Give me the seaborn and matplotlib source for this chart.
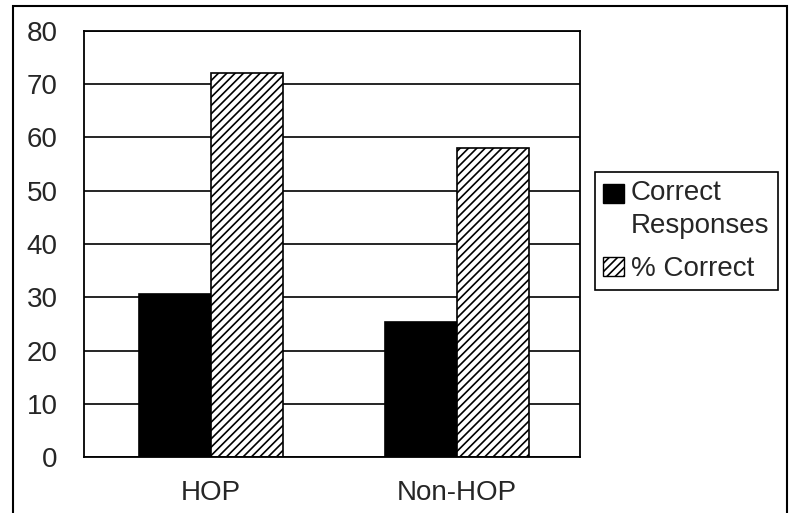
import matplotlib
matplotlib.use("Agg")
import matplotlib.pyplot as plt
from matplotlib.patches import Patch, Rectangle
from matplotlib.legend_handler import HandlerPatch
import seaborn as sns
import pandas as pd

# values
groups = ["HOP", "Non-HOP"]
correct_responses = [30.6, 25.4]
pct_correct = [72.1, 58.1]
series = ["Correct Responses", "% Correct"]

df = pd.DataFrame({
    "group": groups * 2,
    "series": [series[0]] * 2 + [series[1]] * 2,
    "value": correct_responses + pct_correct,
})

sns.set_style("white")
plt.rcParams["font.family"] = ["Liberation Sans", "DejaVu Sans"]
plt.rcParams["hatch.linewidth"] = 1.2

fig = plt.figure(figsize=(7.92, 5.13), dpi=100)
ax = fig.add_axes([84 / 792, 1 - 457.4 / 513, (580 - 84) / 792, (457.4 - 30.7) / 513])

sns.barplot(data=df, x="group", y="value", hue="series", hue_order=series,
            palette=["black", "white"], width=0.585, gap=0, legend=False,
            edgecolor="black", linewidth=1.2, saturation=1, ax=ax)

# hatching on the second series
for bar in ax.containers[1]:
    bar.set_hatch("////")

ax.set_ylim(0, 80)
ax.set_yticks(range(0, 81, 10))
ax.yaxis.grid(True, color="black", linewidth=1.2)
ax.set_axisbelow(True)

ax.set_xlim(-0.517, 1.495)
ax.set_xticks([-0.5, 0.5, 1.5])
ax.set_xticklabels([])
ax.set_xticks([0, 1], minor=True)
ax.set_xticklabels(groups, minor=True)
ax.tick_params(axis="x", which="major", direction="out", length=6.5, width=1.2, color="black")
ax.tick_params(axis="x", which="minor", length=0, pad=16, labelsize=20)
ax.tick_params(axis="y", direction="out", length=7, width=1.2, color="black",
               pad=12, labelsize=20)
ax.set_xlabel("")
ax.set_ylabel("")
for sp in ax.spines.values():
    sp.set_visible(True)
    sp.set_color("black")
    sp.set_linewidth(1.3)

# outer frame around the whole chart
fig.patches.append(Rectangle((13 / 792, -0.05), (787 - 13) / 792, 1.05 - 6 / 513,
                             transform=fig.transFigure, fill=False,
                             edgecolor="black", linewidth=1.5))


class FirstLinePatch(HandlerPatch):
    # put the swatch beside the first line of a two-line label
    def __init__(self, shift, **kw):
        super().__init__(**kw)
        self.shift = shift

    def create_artists(self, legend, orig_handle, xdescent, ydescent,
                       width, height, fontsize, trans):
        arts = super().create_artists(legend, orig_handle, xdescent, ydescent,
                                      width, height, fontsize, trans)
        for a in arts:
            a.set_y(a.get_y() + self.shift)
        return arts


h_cr = Patch(facecolor="black", edgecolor="black")
h_pc = Patch(facecolor="white", edgecolor="black", hatch="////")
leg = fig.legend([h_cr, h_pc], ["Correct\nResponses", "% Correct"], loc="upper left",
                 bbox_to_anchor=(595 / 792, 1 - 172 / 513),
                 bbox_transform=fig.transFigure, borderaxespad=0,
                 fontsize=20, frameon=True, fancybox=False, framealpha=1,
                 edgecolor="black", borderpad=0.3, handlelength=0.75,
                 handleheight=0.7, handletextpad=0.25, labelspacing=0.6,
                 handler_map={h_cr: FirstLinePatch(12)})
leg.get_frame().set_linewidth(1.2)
for t in leg.get_texts():
    t.set_linespacing(1.35)

fig.savefig("out.png", dpi=100)
